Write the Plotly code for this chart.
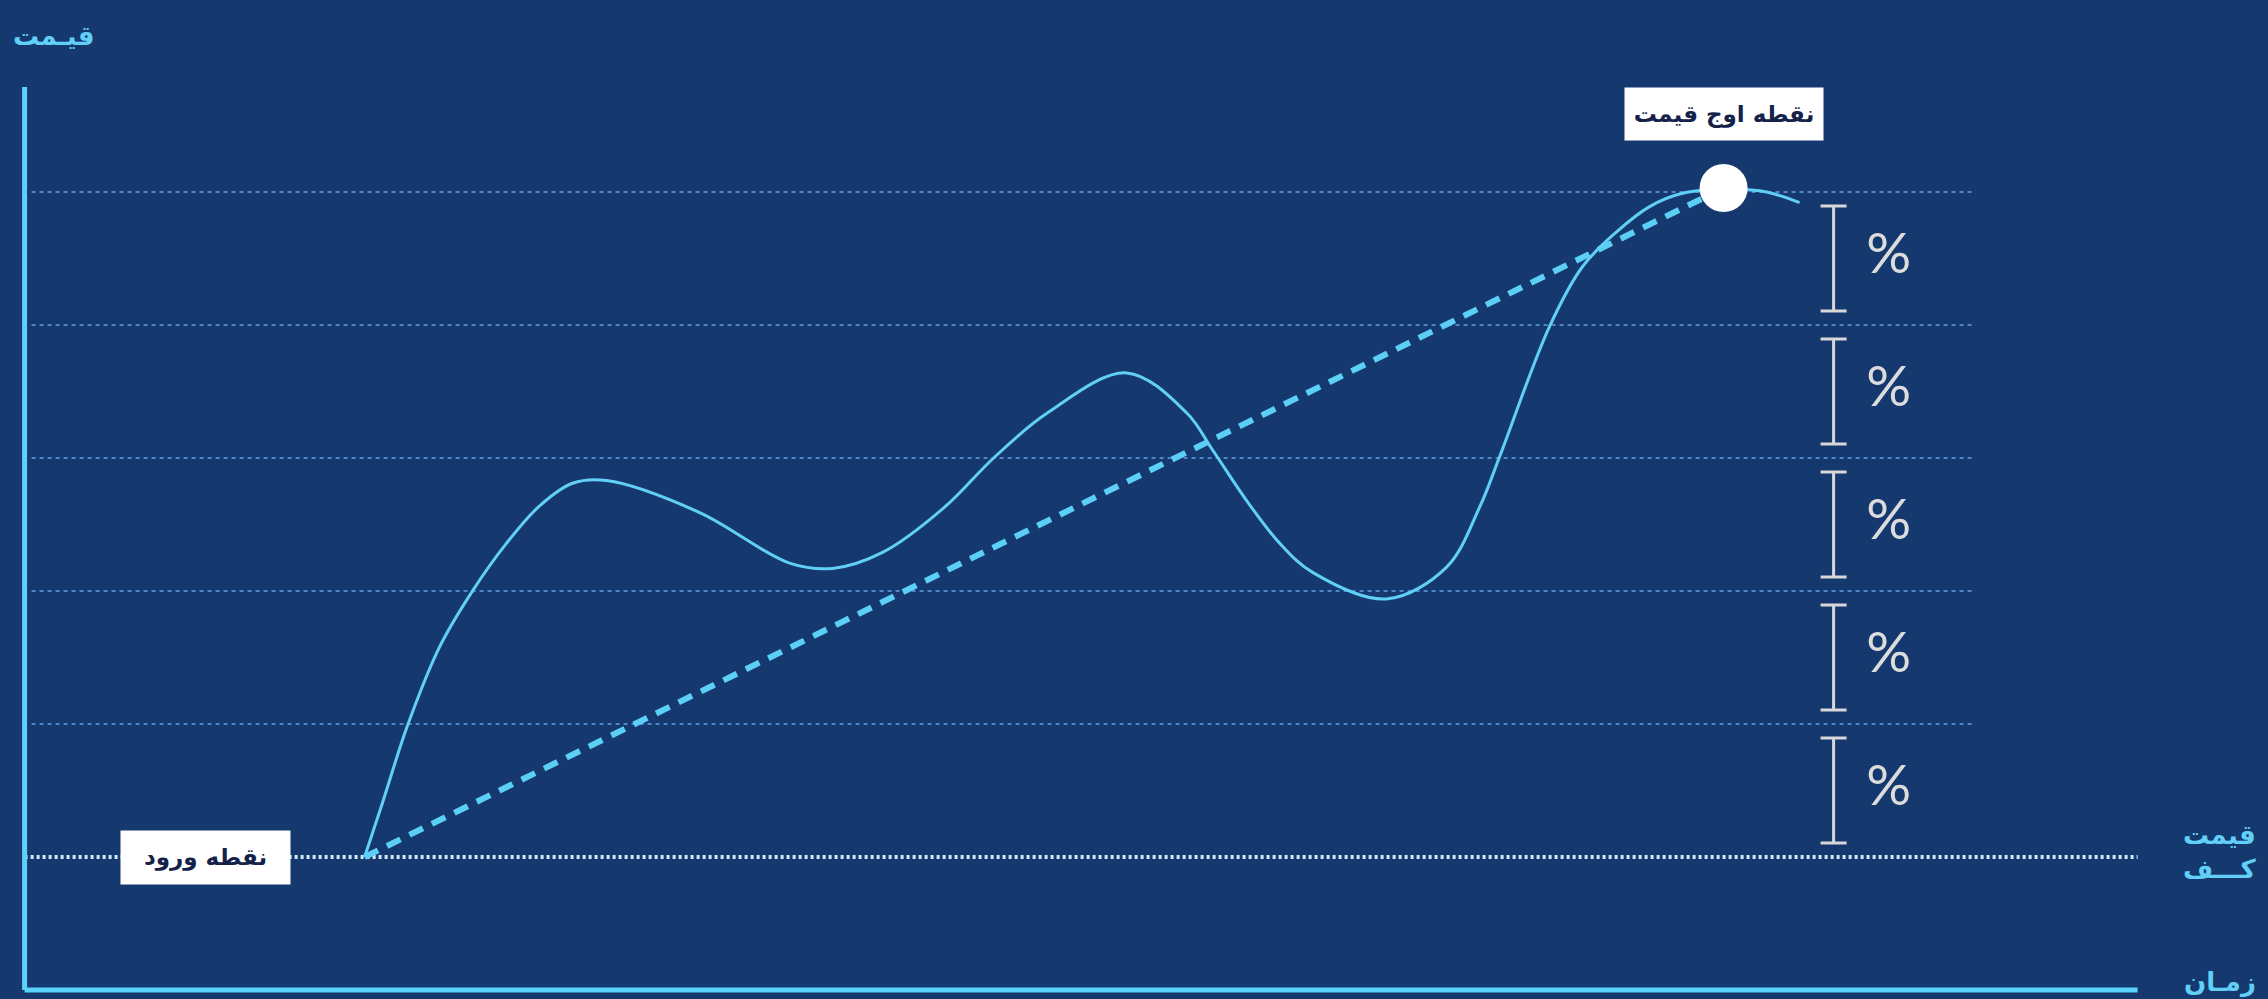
import plotly.graph_objects as go

# ---- data (time units, price levels: entry/floor = 0, each grid step = one % level)
curve_time = [3.40, 3.58, 3.83, 4.15, 4.47, 4.82, 5.15, 5.48, 5.82, 6.75, 7.65, 8.08,
              8.58, 9.20, 9.69, 10.23, 11.02, 11.62, 11.88, 12.22, 12.55, 12.88,
              13.62, 14.22, 14.55, 14.75, 15.25, 15.58, 15.92, 16.25, 16.58, 17.08,
              17.42, 17.75]
curve_price = [0.00, 0.41, 0.99, 1.58, 1.99, 2.36, 2.64, 2.81, 2.83, 2.59, 2.21, 2.17,
               2.29, 2.63, 3.00, 3.34, 3.64, 3.34, 3.06, 2.68, 2.36, 2.14,
               1.94, 2.18, 2.63, 3.01, 3.99, 4.44, 4.70, 4.89, 4.99, 5.02,
               5.00, 4.92]
grid_levels = [1, 2, 3, 4, 5]
floor_level = 0
step_low = [0, 1, 2, 3, 4]
step_high = [1, 2, 3, 4, 5]
entry_time, entry_price = 3.40, 0.0
peak_time, peak_price = 16.99, 5.03
axis_time_end = 21.13
grid_time = [0.07, 19.50]
axis_price_top = 5.79
axis_price_bottom = -1.0
bar_time = 18.09
pct_time = 18.64

y_label = "قیـمت"
floor_label = "قیمت<br>کـــف"
x_label = "زمـان"
peak_label = "نقطه اوج قیمت"
entry_label = "نقطه ورود"
pct_text = "%"

BG = "#15396f"
CYAN = "#62cff6"
AXIS = "#5ad2fa"

fig = go.Figure()

# dotted grid levels
for lv in grid_levels:
    fig.add_trace(go.Scatter(x=grid_time, y=[lv, lv], mode="lines",
                             line=dict(color="#4f86c8", width=2, dash="4px,4px"),
                             hoverinfo="skip"))
# floor dotted line
fig.add_trace(go.Scatter(x=[0, axis_time_end], y=[floor_level, floor_level], mode="lines",
                         line=dict(color="#d2e8fb", width=4, dash="3px,3px"),
                         hoverinfo="skip"))
# axes
fig.add_trace(go.Scatter(x=[0, 0], y=[axis_price_top, axis_price_bottom], mode="lines",
                         line=dict(color=AXIS, width=5), hoverinfo="skip"))
fig.add_trace(go.Scatter(x=[0, axis_time_end], y=[axis_price_bottom, axis_price_bottom],
                         mode="lines", line=dict(color=AXIS, width=5), hoverinfo="skip"))
# dashed trend
fig.add_trace(go.Scatter(x=[entry_time, peak_time], y=[entry_price, peak_price], mode="lines",
                         line=dict(color="#5ccff7", width=6, dash="15px,10px"),
                         hoverinfo="skip"))
# price curve
fig.add_trace(go.Scatter(x=curve_time, y=curve_price, mode="lines",
                         line=dict(color=CYAN, width=3, shape="spline", smoothing=1.0,
                                   simplify=False),
                         hoverinfo="skip"))
# peak marker
fig.add_trace(go.Scatter(x=[peak_time], y=[peak_price], mode="markers",
                         marker=dict(color="white", size=48, line=dict(width=0)),
                         hoverinfo="skip"))
# percent step bars
mids = [(a + b) / 2 for a, b in zip(step_low, step_high)]
half = [(b - a) * 0.395 for a, b in zip(step_low, step_high)]
fig.add_trace(go.Scatter(x=[bar_time] * len(mids), y=mids, mode="markers",
                         marker=dict(size=1, opacity=0),
                         error_y=dict(type="data", array=half, symmetric=True,
                                      color="#d8d8d8", thickness=3, width=13),
                         hoverinfo="skip"))
fig.add_trace(go.Scatter(x=[pct_time] * len(mids), y=mids, mode="text",
                         text=[pct_text] * len(mids),
                         textfont=dict(family="Lato", size=56, color="#dcdcdc"),
                         hoverinfo="skip"))

ann_font = dict(family="DejaVu Sans", size=26, color=CYAN, weight="bold")
fig.add_annotation(x=0.29, y=6.17, text=y_label, showarrow=False, font=ann_font)
fig.add_annotation(x=21.95, y=0.04, text=floor_label, showarrow=False,
                   font=ann_font)
fig.add_annotation(x=21.95, y=-0.94, text=x_label, showarrow=False, font=ann_font)

box_font = dict(family="DejaVu Sans", size=23, color="#14224a", weight="bold")
fig.add_annotation(x=peak_time, y=5.59, text=peak_label, showarrow=False,
                   font=box_font, bgcolor="white", width=190, height=44, borderpad=4)
fig.add_annotation(x=1.81, y=0.0, text=entry_label, showarrow=False,
                   font=box_font, bgcolor="white", width=161, height=45, borderpad=4)

fig.update_layout(
    width=2268, height=999,
    margin=dict(l=0, r=0, t=0, b=0),
    paper_bgcolor=BG, plot_bgcolor=BG,
    showlegend=False,
    xaxis=dict(range=[-0.246, 22.434], visible=False),
    yaxis=dict(range=[-1.0677, 6.4436], visible=False),
)

fig.write_html("out.html", config={"displayModeBar": False},
               post_script="document.body.style.margin='0';")
